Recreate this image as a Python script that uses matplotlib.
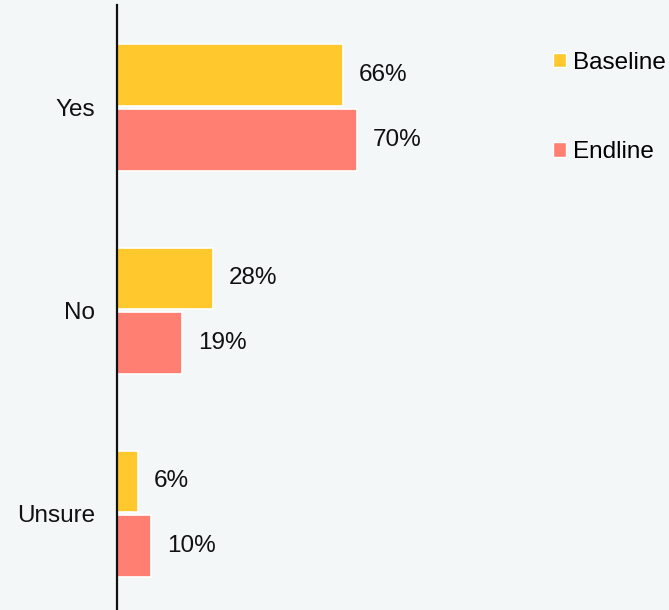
import matplotlib.pyplot as plt
from matplotlib.patches import Patch
import numpy as np

categories = ['Yes', 'No', 'Unsure']
baseline = [66, 28, 6]
endline = [70, 19, 10]
series_names = ['Baseline', 'Endline']

bg = '#f3f7f7'
yellow = '#ffc82c'
salmon = '#ff7f72'

plt.rcParams['font.family'] = ['Liberation Sans', 'DejaVu Sans']
fs = 17.5

fig = plt.figure(figsize=(6.69, 6.10), dpi=100, facecolor=bg)
ax = fig.add_axes([117 / 669, 0, 552 / 669, 605 / 610])
ax.set_facecolor(bg)

y = np.arange(len(categories))
h = 0.305
off = 0.158
b1 = ax.barh(y - off, baseline, height=h, color=yellow, edgecolor='white', linewidth=1.2)
b2 = ax.barh(y + off, endline, height=h, color=salmon, edgecolor='white', linewidth=1.2)

for bars, vals in ((b1, baseline), (b2, endline)):
    for bar, v in zip(bars, vals):
        ax.text(v + 4.6, bar.get_y() + bar.get_height() / 2, f'{v}%',
                va='center', ha='left', fontsize=fs, color='#111111')

ax.set_xlim(0, 552 / 3.43)
ax.set_ylim(2.475, -0.505)
ax.set_yticks(y)
ax.set_yticklabels(categories, fontsize=fs, color='#111111')
ax.tick_params(axis='y', length=0, pad=16)
ax.set_xticks([])
for s in ['top', 'right', 'bottom']:
    ax.spines[s].set_visible(False)
ax.spines['left'].set_linewidth(1.6)
ax.spines['left'].set_color('#111111')

handles = [Patch(facecolor=yellow, edgecolor='white'),
           Patch(facecolor=salmon, edgecolor='white')]
fig.legend(handles, series_names, loc='upper left', bbox_to_anchor=(543 / 669, 1 - 42 / 610),
           frameon=False, fontsize=fs, handlelength=0.55, handleheight=0.55,
           handletextpad=0.3, labelspacing=2.78, borderaxespad=0)

fig.savefig('out.png', dpi=100, facecolor=bg)
